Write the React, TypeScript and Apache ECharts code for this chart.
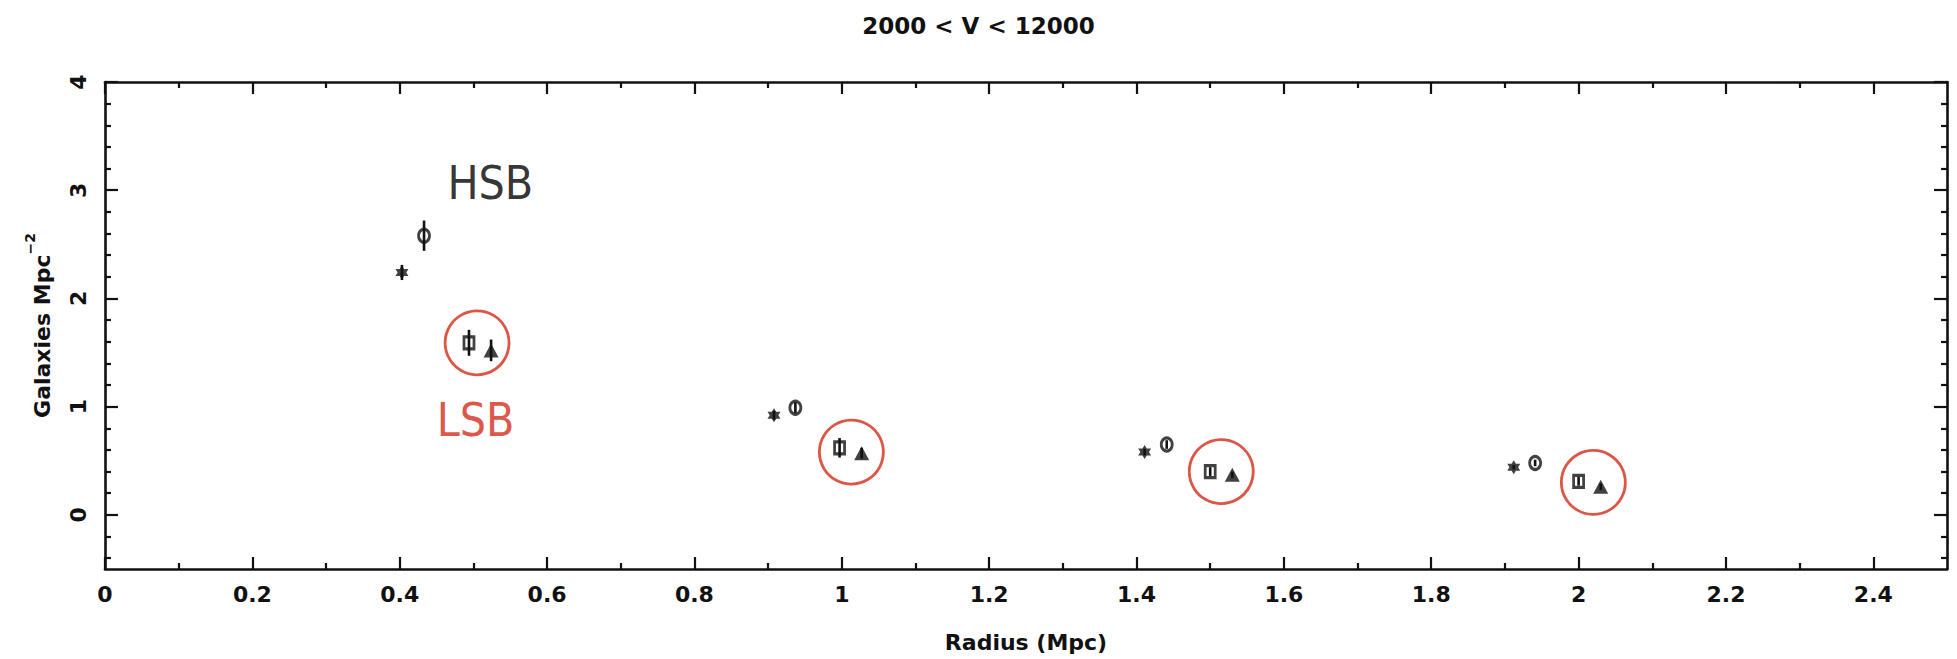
import React, { useEffect, useRef } from "react";
import * as echarts from "echarts";

// ---- data ----
const hsbStarRadius = [0.403, 0.908, 1.411, 1.912];
const hsbStarDensity = [2.24, 0.92, 0.58, 0.44];
const hsbStarError = [0.07, 0.04, 0.03, 0.02];

const hsbCircleRadius = [0.433, 0.937, 1.441, 1.941];
const hsbCircleDensity = [2.58, 0.99, 0.65, 0.48];
const hsbCircleError = [0.14, 0.05, 0.04, 0.03];

const lsbSquareRadius = [0.494, 0.997, 1.5, 2.0];
const lsbSquareDensity = [1.59, 0.62, 0.4, 0.31];
const lsbSquareError = [0.12, 0.09, 0.04, 0.04];

const lsbTriangleRadius = [0.524, 1.027, 1.53, 2.03];
const lsbTriangleDensity = [1.52, 0.57, 0.37, 0.26];
const lsbTriangleError = [0.1, 0.05, 0.03, 0.03];

// red highlight circles (annotation centres, data coords)
const highlightRadius = [0.505, 1.013, 1.515, 2.02];
const highlightDensity = [1.59, 0.58, 0.4, 0.3];

const annotationLabels = ["HSB", "LSB"];
const annotationRadius = [0.523, 0.503];
const annotationDensity = [3.07, 0.88];

const xMajorTicks = [0, 0.2, 0.4, 0.6, 0.8, 1, 1.2, 1.4, 1.6, 1.8, 2, 2.2, 2.4];
const xMinorTicks = [0.1, 0.3, 0.5, 0.7, 0.9, 1.1, 1.3, 1.5, 1.7, 1.9, 2.1, 2.3];
const yMajorTicks = [0, 1, 2, 3, 4];
const yMinorTicks = [
  -0.4, -0.2, 0.2, 0.4, 0.6, 0.8, 1.2, 1.4, 1.6, 1.8, 2.2, 2.4, 2.6, 2.8, 3.2, 3.4, 3.6, 3.8,
];

const titleText = "2000 < V < 12000";
const xName = "Radius (Mpc)";

const FONT = "DejaVu Sans";
const INK = "#111111";
const RED = "#d42a17";

const starPath =
  "path://M0,-10 L2.9,-5 L8.7,-5 L5.8,0 L8.7,5 L2.9,5 L0,10 L-2.9,5 L-8.7,5 L-5.8,0 L-8.7,-5 L-2.9,-5 Z";

function pairs(xs: number[], ys: number[]) {
  return xs.map((x, i) => [x, ys[i]]);
}
function bars(xs: number[], ys: number[], es: number[]) {
  return xs.map((x, i) => [x, ys[i] - es[i], ys[i] + es[i]]);
}

function errorBarSeries(data: number[][]) {
  return {
    type: "custom",
    xAxisIndex: 0,
    yAxisIndex: 0,
    data,
    encode: { x: 0, y: [1, 2] },
    z: 3,
    renderItem: (params: any, api: any) => {
      const x = api.value(0);
      const p1 = api.coord([x, api.value(1)]);
      const p2 = api.coord([x, api.value(2)]);
      return {
        type: "line",
        shape: { x1: p1[0], y1: p1[1], x2: p2[0], y2: p2[1] },
        style: { stroke: INK, lineWidth: 2.6 },
      };
    },
  };
}

export default function App() {
  const ref = useRef<HTMLDivElement>(null);

  useEffect(() => {
    document.body.style.margin = "0";
    const chart = echarts.init(ref.current!, null, { renderer: "svg" });

    const baseX = { type: "value", min: 0, max: 2.5, gridIndex: 0 };
    const baseY = { type: "value", min: -0.5, max: 4, gridIndex: 0 };
    const lineStyle = { show: true, onZero: false, lineStyle: { color: INK, width: 2.6 } };
    const noLine = { show: false, onZero: false };
    const tickStyle = { color: INK, width: 2.2 };
    const textBase = { fontFamily: FONT, fontWeight: "bold", color: INK };

    const option: any = {
      animation: false,
      backgroundColor: "#ffffff",
      title: {
        text: titleText,
        left: "center",
        top: 9,
        textStyle: { ...textBase, fontSize: 23 },
      },
      grid: { left: 105, right: 10, top: 82, bottom: 90, containLabel: false },
      xAxis: [
        {
          ...baseX,
          position: "bottom",
          axisLine: lineStyle,
          axisTick: { show: true, inside: true, length: 12, customValues: xMajorTicks, lineStyle: tickStyle },
          axisLabel: { show: true, customValues: xMajorTicks, margin: 14, ...textBase, fontSize: 22 },
          splitLine: { show: false },
          name: xName,
          nameLocation: "middle",
          nameGap: 62,
          nameTextStyle: { ...textBase, fontSize: 22 },
        },
        {
          ...baseX,
          position: "bottom",
          axisLine: noLine,
          axisTick: { show: true, inside: true, length: 6, customValues: xMinorTicks, lineStyle: tickStyle },
          axisLabel: { show: false },
          splitLine: { show: false },
        },
        {
          ...baseX,
          position: "top",
          axisLine: lineStyle,
          axisTick: { show: true, inside: true, length: 12, customValues: xMajorTicks, lineStyle: tickStyle },
          axisLabel: { show: false },
          splitLine: { show: false },
        },
        {
          ...baseX,
          position: "top",
          axisLine: noLine,
          axisTick: { show: true, inside: true, length: 6, customValues: xMinorTicks, lineStyle: tickStyle },
          axisLabel: { show: false },
          splitLine: { show: false },
        },
      ],
      yAxis: [
        {
          ...baseY,
          position: "left",
          axisLine: lineStyle,
          axisTick: { show: true, inside: true, length: 13, customValues: yMajorTicks, lineStyle: tickStyle },
          axisLabel: { show: true, customValues: yMajorTicks, rotate: 90, margin: 16, ...textBase, fontSize: 22 },
          splitLine: { show: false },
          name: "{a|Galaxies Mpc}{s|−2}",
          nameLocation: "middle",
          nameGap: 52,
          nameRotate: 90,
          nameTextStyle: {
            ...textBase,
            rich: {
              a: { ...textBase, fontSize: 22, lineHeight: 30, verticalAlign: "bottom" },
              s: { ...textBase, fontSize: 14, lineHeight: 30, verticalAlign: "top" },
            },
          },
        },
        {
          ...baseY,
          position: "left",
          axisLine: noLine,
          axisTick: { show: true, inside: true, length: 6, customValues: yMinorTicks, lineStyle: tickStyle },
          axisLabel: { show: false },
          splitLine: { show: false },
        },
        {
          ...baseY,
          position: "right",
          axisLine: lineStyle,
          axisTick: { show: true, inside: true, length: 13, customValues: yMajorTicks, lineStyle: tickStyle },
          axisLabel: { show: false },
          splitLine: { show: false },
        },
        {
          ...baseY,
          position: "right",
          axisLine: noLine,
          axisTick: { show: true, inside: true, length: 6, customValues: yMinorTicks, lineStyle: tickStyle },
          axisLabel: { show: false },
          splitLine: { show: false },
        },
      ],
      series: [
        errorBarSeries(bars(hsbStarRadius, hsbStarDensity, hsbStarError)),
        errorBarSeries(bars(hsbCircleRadius, hsbCircleDensity, hsbCircleError)),
        errorBarSeries(bars(lsbSquareRadius, lsbSquareDensity, lsbSquareError)),
        errorBarSeries(bars(lsbTriangleRadius, lsbTriangleDensity, lsbTriangleError)),
        {
          name: "HSB (star)",
          type: "scatter",
          data: pairs(hsbStarRadius, hsbStarDensity),
          symbol: starPath,
          symbolSize: [13, 14],
          itemStyle: { color: INK },
          z: 4,
        },
        {
          name: "HSB (circle)",
          type: "scatter",
          data: pairs(hsbCircleRadius, hsbCircleDensity),
          symbol: "circle",
          symbolSize: [11, 13],
          itemStyle: { color: "rgba(0,0,0,0)", borderColor: INK, borderWidth: 3 },
          z: 4,
        },
        {
          name: "LSB (square)",
          type: "scatter",
          data: pairs(lsbSquareRadius, lsbSquareDensity),
          symbol: "rect",
          symbolSize: [10, 12],
          itemStyle: { color: "rgba(0,0,0,0)", borderColor: INK, borderWidth: 3 },
          z: 4,
        },
        {
          name: "LSB (triangle)",
          type: "scatter",
          data: pairs(lsbTriangleRadius, lsbTriangleDensity),
          symbol: "triangle",
          symbolSize: [15, 14],
          itemStyle: { color: INK },
          z: 4,
        },
        {
          name: "highlight",
          type: "scatter",
          data: pairs(highlightRadius, highlightDensity),
          symbol: "circle",
          symbolSize: 64,
          itemStyle: { color: "rgba(0,0,0,0)", borderColor: RED, borderWidth: 2.8 },
          z: 5,
          silent: true,
        },
        {
          name: "labels",
          type: "scatter",
          data: annotationLabels.map((t, i) => ({
            name: t,
            value: [annotationRadius[i], annotationDensity[i]],
            label: { color: i === 0 ? "#000000" : RED },
          })),
          symbol: "circle",
          symbolSize: 1,
          itemStyle: { color: "rgba(0,0,0,0)" },
          label: {
            show: true,
            position: "inside",
            formatter: (p: any) => p.name,
            color: "#000000",
            textBorderWidth: 0,
            fontFamily: "'Liberation Sans Narrow', 'DejaVu Sans Condensed', sans-serif",
            fontSize: 46,
          },
          z: 6,
          silent: true,
        },
      ],
    };

    chart.setOption(option);
    return () => chart.dispose();
  }, []);

  return <div ref={ref} style={{ width: 1957, height: 659 }} />;
}
